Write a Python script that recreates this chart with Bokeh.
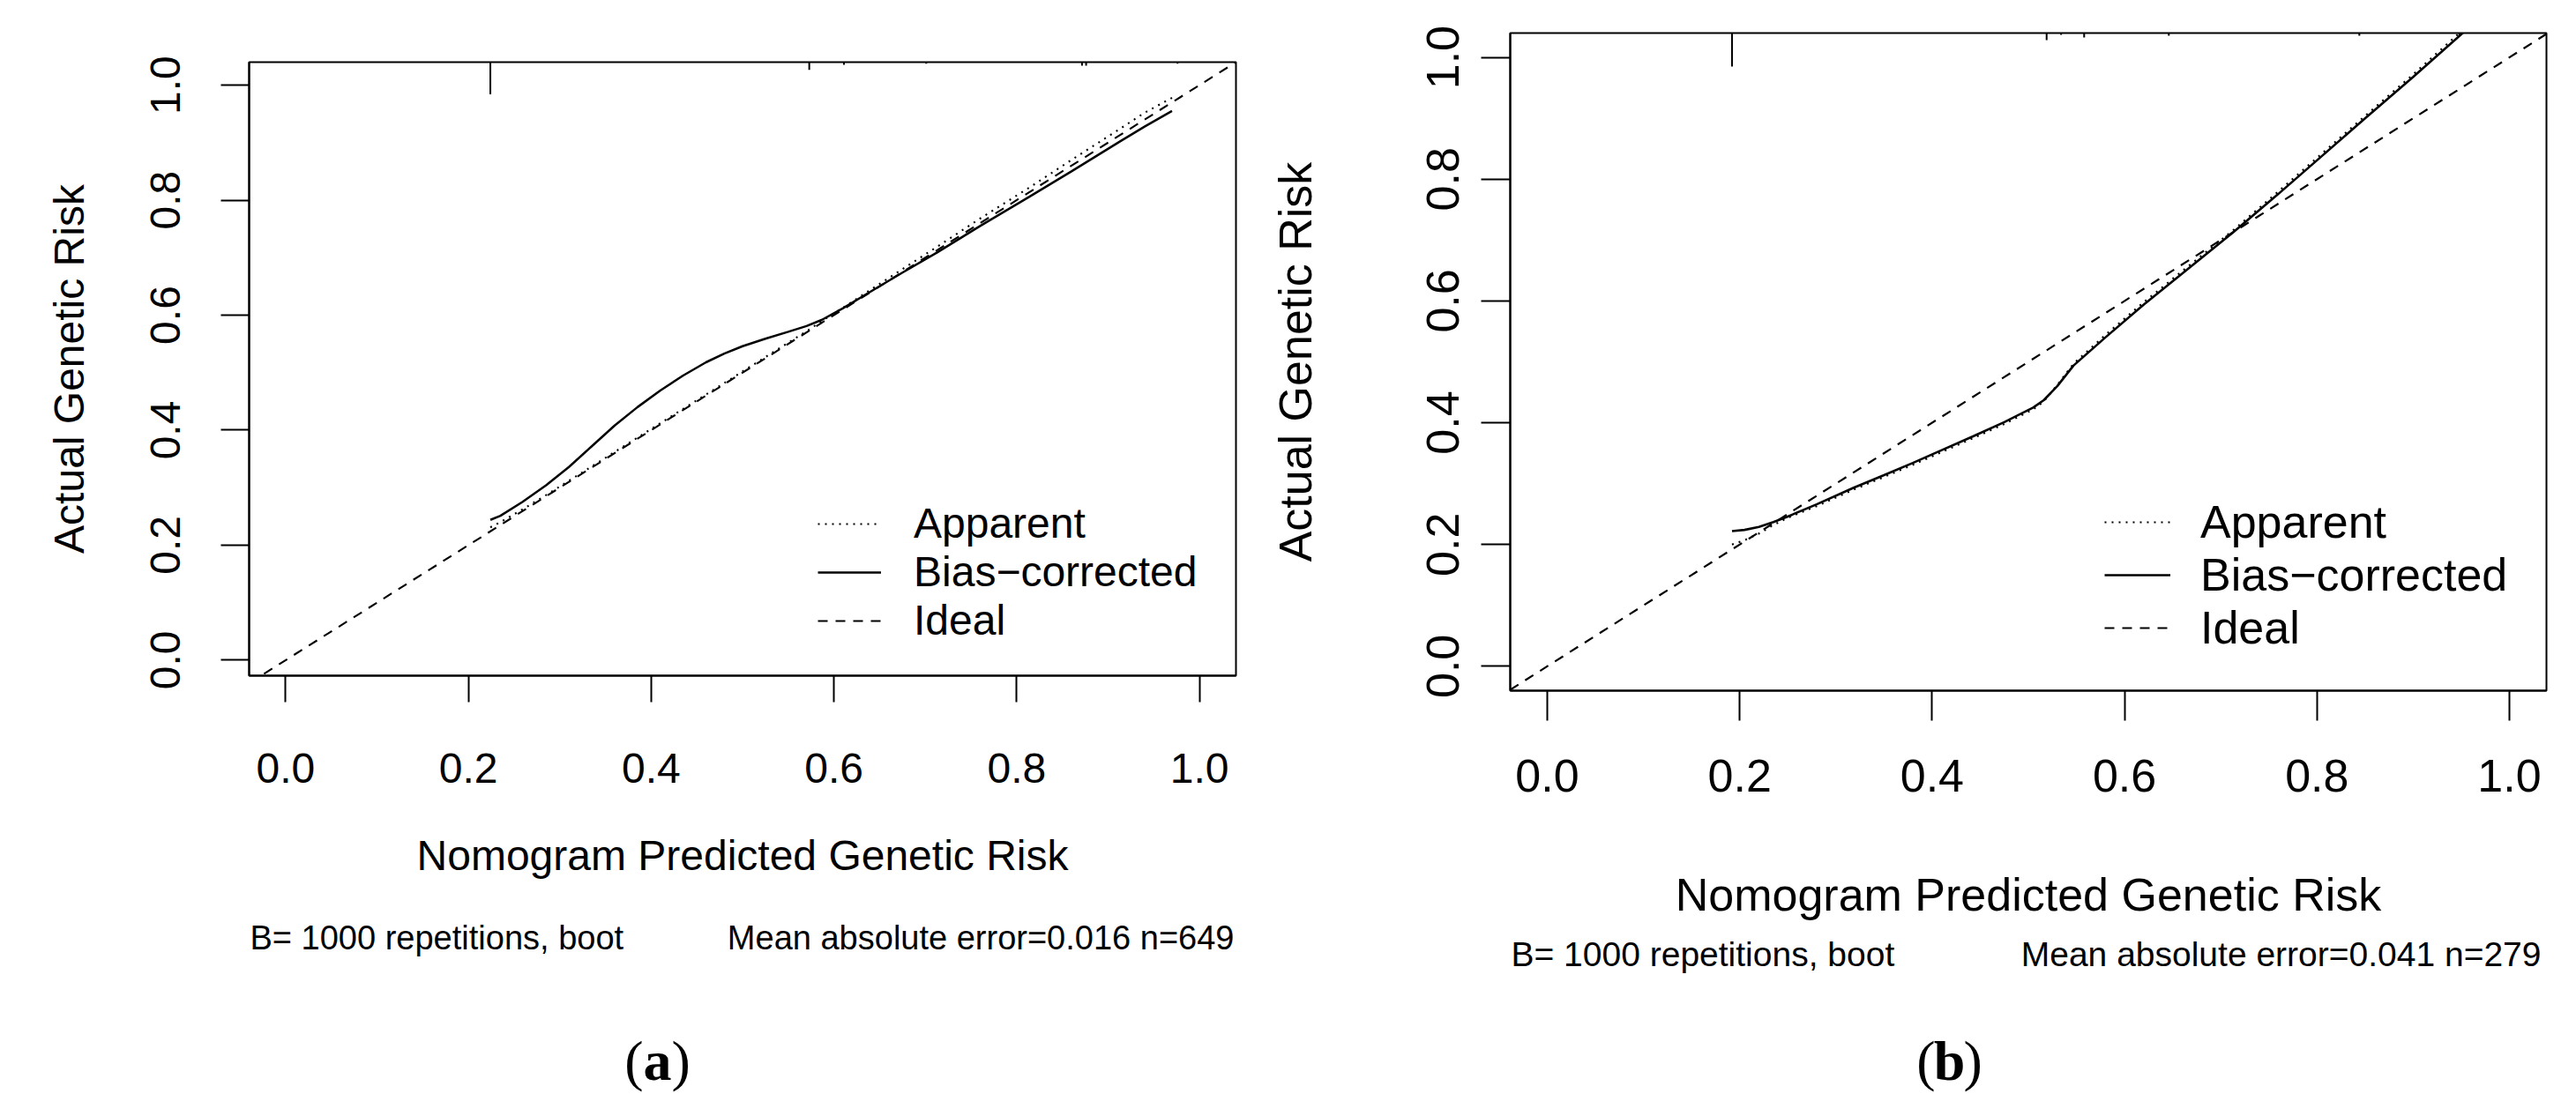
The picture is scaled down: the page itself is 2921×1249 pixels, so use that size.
from bokeh.plotting import figure
from bokeh.models import Range1d, FixedTicker, NumeralTickFormatter, Legend, LegendItem
from bokeh.layouts import row, column
from bokeh.embed import file_html
from bokeh.resources import INLINE
from bokeh.core.properties import value

# ---------------- data ----------------
ticks = [0.0, 0.2, 0.4, 0.6, 0.8, 1.0]

# panel (a)
a_pred = [0.224, 0.235, 0.259, 0.285, 0.31, 0.335, 0.36, 0.385, 0.41, 0.435, 0.46, 0.48, 0.50,
          0.525, 0.55, 0.57, 0.587, 0.61, 0.637, 0.675, 0.713, 0.76, 0.814, 0.86, 0.914, 0.94, 0.97]
a_bias = [0.244, 0.251, 0.275, 0.304, 0.336, 0.372, 0.408, 0.440, 0.469, 0.495, 0.518, 0.533, 0.546,
          0.559, 0.571, 0.581, 0.592, 0.612, 0.638, 0.674, 0.709, 0.755, 0.806, 0.850, 0.903, 0.928, 0.955]
a_app = [0.231, 0.240, 0.262, 0.287, 0.312, 0.337, 0.362, 0.387, 0.412, 0.437, 0.462, 0.482, 0.502,
         0.527, 0.552, 0.572, 0.590, 0.613, 0.641, 0.680, 0.719, 0.768, 0.822, 0.870, 0.925, 0.952, 0.978]
a_spike_x = [0.224, 0.573, 0.611, 0.701, 0.8715, 0.876, 0.976]
a_spike_f = [1.0, 0.24, 0.08, 0.05, 0.11, 0.11, 0.05]
a_sub_left = "B= 1000 repetitions, boot"
a_sub_right = "Mean absolute error=0.016 n=649"

# panel (b)
b_pred = [0.192, 0.205, 0.22, 0.235, 0.25, 0.28, 0.318, 0.35, 0.38, 0.41, 0.443, 0.475, 0.505,
          0.516, 0.53, 0.547, 0.58, 0.62, 0.66, 0.7135, 0.76, 0.80, 0.85, 0.90, 0.955]
b_bias = [0.222, 0.224, 0.229, 0.237, 0.246, 0.266, 0.293, 0.314, 0.334, 0.355, 0.378, 0.401, 0.425,
          0.437, 0.460, 0.494, 0.540, 0.594, 0.645, 0.7135, 0.776, 0.831, 0.900, 0.968, 1.045]
b_app = [0.200, 0.207, 0.218, 0.232, 0.244, 0.263, 0.290, 0.311, 0.331, 0.352, 0.375, 0.398, 0.422,
         0.435, 0.462, 0.497, 0.544, 0.598, 0.649, 0.717, 0.780, 0.835, 0.904, 0.972, 1.05]
b_spike_x = [0.192, 0.519, 0.534, 0.558, 0.646, 0.844, 0.948]
b_spike_f = [1.0, 0.21, 0.05, 0.13, 0.08, 0.08, 0.08]
b_sub_left = "B= 1000 repetitions, boot"
b_sub_right = "Mean absolute error=0.041 n=279"

x_title = "Nomogram Predicted Genetic Risk"
y_title = "Actual Genetic Risk"
legend_labels = ["Apparent", "Bias\u2212corrected", "Ideal"]

FONT = "Liberation Sans"
SERIF = "Liberation Serif"
PAGE_H = 1249


def make_panel(cfg, pred, bias, app, spx, spf):
    xr = cfg["xr"]
    yr = cfg["yr"]
    p = figure(frame_width=cfg["fw"], frame_height=cfg["fh"],
               min_border_left=cfg["mbl"], min_border_right=cfg["mbr"],
               min_border_top=cfg["mbt"], min_border_bottom=cfg["H"] - cfg["mbt"] - cfg["fh"],
               x_range=Range1d(*xr), y_range=Range1d(*yr),
               output_backend="svg", toolbar_location=None)
    p.grid.visible = False
    p.background_fill_color = "white"
    p.border_fill_color = "white"
    p.outline_line_color = "black"
    p.outline_line_width = 2
    p.outline_line_alpha = 1

    fs = cfg["fs"]
    for ax in (p.xaxis[0], p.yaxis[0]):
        ax.ticker = FixedTicker(ticks=ticks)
        ax.formatter = NumeralTickFormatter(format="0.0")
        ax.major_tick_in = 0
        ax.minor_tick_in = 0
        ax.minor_tick_out = 0
        ax.major_tick_line_width = 2
        ax.axis_line_width = 2
        ax.major_label_text_font = FONT
        ax.major_label_text_font_size = f"{fs}px"
        ax.major_label_text_color = "black"
        ax.axis_label_text_font = FONT
        ax.axis_label_text_font_size = f"{fs}px"
        ax.axis_label_text_font_style = "normal"
        ax.axis_label_text_color = "black"
    xa = p.xaxis[0]
    ya = p.yaxis[0]
    xa.axis_label = x_title
    ya.axis_label = y_title
    xa.major_tick_out = cfg["xtick"]
    ya.major_tick_out = cfg["ytick"]
    xa.major_label_standoff = cfg["xls"]
    xa.axis_label_standoff = cfg["xts"]
    ya.major_label_orientation = "vertical"
    ya.major_label_standoff = cfg["yls"]
    ya.axis_label_standoff = cfg["yts"]

    lw = cfg["lw"]
    ideal_x = [xr[0], xr[1]]  # y = x across the whole plotting region
    r_ideal = p.line(ideal_x, ideal_x, line_color="black", line_width=lw * 0.85, line_dash="11 9")
    r_app = p.line(pred, app, line_color="black", line_width=lw * 0.85, line_dash="2 6")
    r_bias = p.line(pred, bias, line_color="black", line_width=lw)

    # spike histogram of predicted risks along the top edge
    top = yr[1]
    p.segment(x0=spx, y0=[top] * len(spx), x1=spx,
              y1=[top - f * cfg["spike"] for f in spf], line_color="black", line_width=2)

    legend = Legend(items=[LegendItem(label=legend_labels[0], renderers=[r_app]),
                           LegendItem(label=legend_labels[1], renderers=[r_bias]),
                           LegendItem(label=legend_labels[2], renderers=[r_ideal])],
                    location=cfg["legloc"], orientation="vertical",
                    glyph_width=cfg["gw"], glyph_height=20, label_standoff=cfg["lstand"],
                    spacing=cfg["lsp"], padding=0, margin=0,
                    border_line_alpha=0, background_fill_alpha=0,
                    label_text_font=FONT, label_text_font_size=f"{fs}px",
                    label_text_color="black", label_height=20)
    p.add_layout(legend)
    return p


def make_text_strip(cfg, sub_l, sub_r, tag):
    # strip below the panel; its frame is aligned with the panel frame, x/y in pixels
    fl, fw = cfg["mbl"], cfg["fw"]
    h = PAGE_H - cfg["H"]
    t = figure(frame_width=fw, frame_height=h,
               min_border_left=fl, min_border_right=cfg["mbr"], min_border_top=0, min_border_bottom=0,
               x_range=Range1d(fl, fl + fw), y_range=Range1d(h, 0),
               x_axis_location=None, y_axis_location=None,
               output_backend="svg", toolbar_location=None)
    t.grid.visible = False
    t.outline_line_color = None
    t.background_fill_color = "white"
    t.border_fill_color = "white"
    sy = cfg["suby"] - cfg["H"]
    sfs = value(f"{cfg['subfs']}px")
    t.text(x=[fl + 1], y=[sy], text=[sub_l], text_font=value(FONT), text_font_size=sfs,
           text_align="left", text_baseline="middle", text_color="black")
    t.text(x=[fl + fw - cfg["subr"]], y=[sy], text=[sub_r], text_font=value(FONT),
           text_font_size=sfs, text_align="right", text_baseline="middle", text_color="black")
    cx, cy = cfg["tagpos"]
    cy = cy - cfg["H"]
    tfs = cfg["tagfs"]
    half = tfs * 0.25
    tf = value(f"{tfs}px")
    t.text(x=[cx - half], y=[cy], text=["("], text_font=value(SERIF), text_font_size=tf,
           text_align="right", text_baseline="middle", text_color="black")
    t.text(x=[cx], y=[cy], text=[tag], text_font=value(SERIF), text_font_size=tf,
           text_font_style="bold", text_align="center", text_baseline="middle", text_color="black")
    t.text(x=[cx + half], y=[cy], text=[")"], text_font=value(SERIF), text_font_size=tf,
           text_align="left", text_baseline="middle", text_color="black")
    return t


cfg_a = dict(xr=(-0.04, 1.04), yr=(-0.027, 1.04), fw=1119, fh=696,
             mbl=282, mbr=35, mbt=70, H=1035,
             fs=48, xtick=30, ytick=32, xls=58, xts=53, yls=46, yts=64, lw=2.5,
             spike=0.056, legloc=(645, 35), gw=72, lstand=37, lsp=-11,
             suby=1063, subfs=38, subr=2, tagfs=64, tagpos=(745, 1203))
cfg_b = dict(xr=(-0.0385, 1.0385), yr=(-0.04, 1.04), fw=1175, fh=746,
             mbl=276, mbr=12, mbt=37, H=1052,
             fs=52, xtick=34, ytick=33, xls=44, xts=85, yls=25, yts=118, lw=2.6,
             spike=0.055, legloc=(674, 41), gw=75, lstand=34, lsp=-12,
             suby=1082, subfs=39, subr=6, tagfs=64, tagpos=(774, 1203))

pa = make_panel(cfg_a, a_pred, a_bias, a_app, a_spike_x, a_spike_f)
pb = make_panel(cfg_b, b_pred, b_bias, b_app, b_spike_x, b_spike_f)
ta = make_text_strip(cfg_a, a_sub_left, a_sub_right, "a")
tb = make_text_strip(cfg_b, b_sub_left, b_sub_right, "b")

layout = row(column(pa, ta), column(pb, tb))
open("out.html", "w").write(file_html(layout, INLINE))
